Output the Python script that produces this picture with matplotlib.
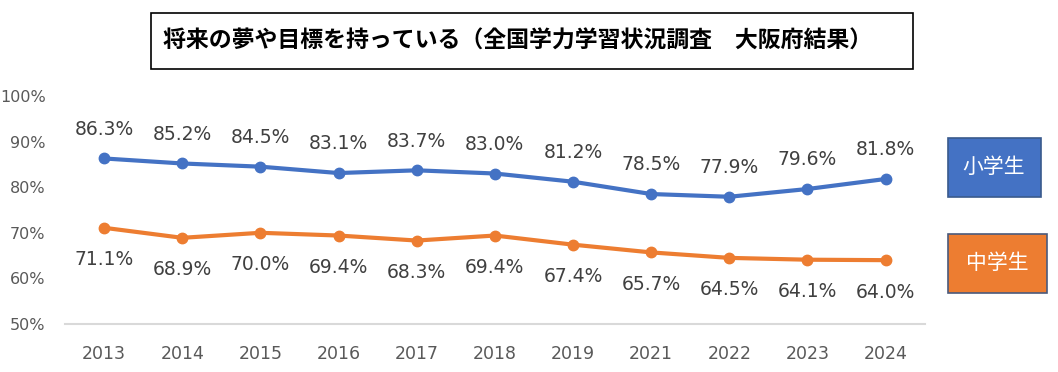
import numpy as np
import matplotlib.pyplot as plt
from matplotlib.patches import Rectangle

plt.rcParams['font.family'] = ['Noto Sans CJK JP', 'DejaVu Sans']

years = ['2013', '2014', '2015', '2016', '2017', '2018', '2019', '2021', '2022', '2023', '2024']
elem = [86.3, 85.2, 84.5, 83.1, 83.7, 83.0, 81.2, 78.5, 77.9, 79.6, 81.8]  # 小学生
junior = [71.1, 68.9, 70.0, 69.4, 68.3, 69.4, 67.4, 65.7, 64.5, 64.1, 64.0]  # 中学生
yticks = [50, 60, 70, 80, 90, 100]

blue = '#4472C4'
orange = '#ED7D31'
txt = '#404040'
tick = '#595959'
num_font = 'DejaVu Sans'

fig = plt.figure(figsize=(10.58, 3.72), dpi=100)
ax = fig.add_axes([0.0614, 0.129, 0.8126, 0.613])

x = np.arange(len(years))
ax.plot(x, elem, color=blue, lw=3, marker='o', ms=7.5, solid_capstyle='round')
ax.plot(x, junior, color=orange, lw=3, marker='o', ms=7.5, solid_capstyle='round')

for i in range(len(years)):
    ax.annotate(f'{elem[i]:.1f}%', (x[i], elem[i]), xytext=(0, 21), textcoords='offset points',
                ha='center', va='center', fontsize=13.5, color=txt, family=num_font)
    ax.annotate(f'{junior[i]:.1f}%', (x[i], junior[i]), xytext=(0, -23), textcoords='offset points',
                ha='center', va='center', fontsize=13.5, color=txt, family=num_font)

ax.set_xlim(-0.5, len(years) - 0.5)
ax.set_ylim(50, 100)
ax.set_xticks(x)
ax.set_xticklabels(years, family=num_font, fontsize=12.5)
ax.set_yticks(yticks)
ax.set_yticklabels([f'{v}%' for v in yticks], family=num_font, fontsize=11.5)
ax.tick_params(length=0, colors=tick)
ax.tick_params(axis='x', pad=15)
ax.tick_params(axis='y', pad=14)
for s in ['top', 'right', 'left']:
    ax.spines[s].set_visible(False)
ax.spines['bottom'].set_color('#D9D9D9')
ax.spines['bottom'].set_linewidth(1.5)

# title box
fig.patches.append(Rectangle((0.1427, 0.8145), 0.7203, 0.1505, transform=fig.transFigure,
                             facecolor='white', edgecolor='black', lw=1.2))
fig.text(0.4895, 0.89, '将来の夢や目標を持っている（全国学力学習状況調査\u3000大阪府結果）',
         ha='center', va='center', fontsize=16.5, fontweight='bold', color='black')

# legend boxes
fig.patches.append(Rectangle((0.896, 0.4704), 0.088, 0.1586, transform=fig.transFigure,
                             facecolor=blue, edgecolor='#3A5A8C', lw=1.2))
fig.text(0.9395, 0.551, '小学生', ha='center', va='center', fontsize=15, color='white')
fig.patches.append(Rectangle((0.896, 0.2124), 0.0936, 0.1586, transform=fig.transFigure,
                             facecolor=orange, edgecolor='#4A5A7C', lw=1.2))
fig.text(0.9423, 0.293, '中学生', ha='center', va='center', fontsize=15, color='white')

fig.savefig('out.png', dpi=100)
